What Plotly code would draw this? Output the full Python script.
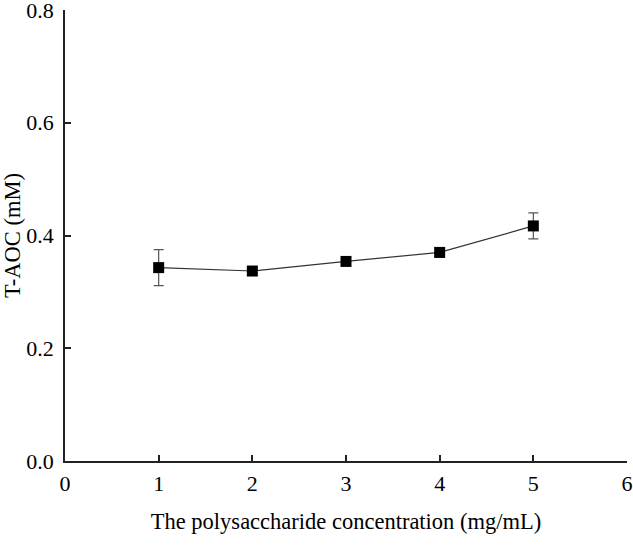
import plotly.graph_objects as go

concentration = [1, 2, 3, 4, 5]
t_aoc = [0.343, 0.337, 0.354, 0.370, 0.417]
t_aoc_err = [0.032, 0.004, 0.004, 0.008, 0.023]

x_ticks = [0, 1, 2, 3, 4, 5, 6]
y_ticks = [0.0, 0.2, 0.4, 0.6, 0.8]

font_family = "Liberation Serif, Times New Roman, serif"

fig = go.Figure()
fig.add_trace(go.Scatter(
    x=concentration,
    y=t_aoc,
    mode="lines+markers",
    line=dict(color="#333333", width=1.2),
    marker=dict(symbol="square", size=11, color="black"),
    error_y=dict(type="data", array=t_aoc_err, visible=True,
                 color="#555555", thickness=1.2, width=5),
    showlegend=False,
))

fig.update_layout(
    width=633, height=549,
    margin=dict(l=65, r=6, t=10, b=88),
    paper_bgcolor="white", plot_bgcolor="white",
    font=dict(family=font_family, color="black", size=22),
    xaxis=dict(
        range=[0, 6], tickvals=x_ticks, ticktext=[str(v) for v in x_ticks],
        ticks="inside", ticklen=6, tickwidth=1.5, tickcolor="#222222",
        showline=True, linecolor="#222222", linewidth=1.8,
        showgrid=False, zeroline=False, automargin=False,
        ticklabeloverflow="allow", ticklabelstandoff=2,
        tickfont=dict(size=22, color="black"),
        title=dict(text="The polysaccharide concentration (mg/mL)",
                   font=dict(size=22.5, color="black"), standoff=18),
    ),
    yaxis=dict(
        range=[0, 0.8], tickvals=y_ticks, ticktext=[f"{v:.1f}" for v in y_ticks],
        ticks="inside", ticklen=6, tickwidth=1.5, tickcolor="#222222",
        showline=True, linecolor="#222222", linewidth=1.8,
        showgrid=False, zeroline=False, automargin=False,
        ticklabeloverflow="allow", ticklabelstandoff=5,
        tickfont=dict(size=22, color="black"),
        title=dict(text="T-AOC (mM)", font=dict(size=22.5, color="black"), standoff=2),
    ),
)

fig.write_html("out.html", config={"displayModeBar": False},
               post_script="document.body.style.margin='0px';")
